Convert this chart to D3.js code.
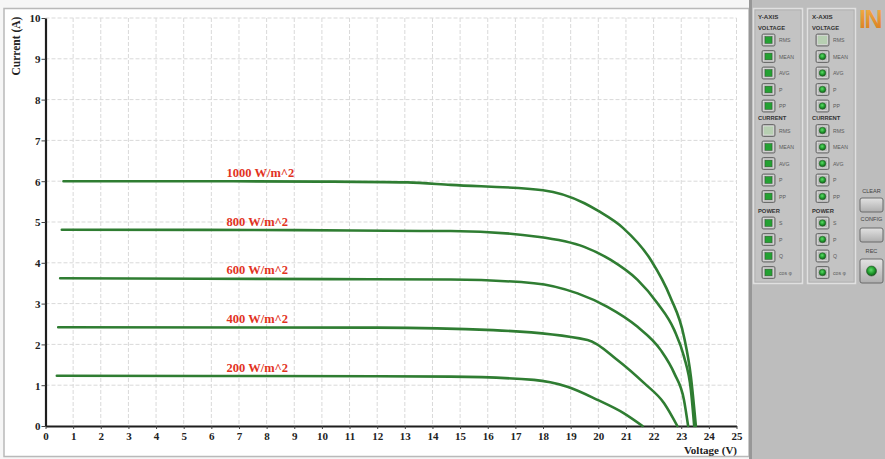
<!DOCTYPE html>
<html>
<head>
<meta charset="utf-8">
<script src="https://cdn.jsdelivr.net/npm/d3@7"></script>
<style>
  body { margin: 0; background: #fff; }
  svg { display: block; }
</style>
</head>
<body>
<svg id="chart" width="885" height="459"></svg>
<script>
// I-V characteristics of a PV module at five irradiance levels
const irradiance = ["1000 W/m^2", "800 W/m^2", "600 W/m^2", "400 W/m^2", "200 W/m^2"];

const v1000 = [0.65, 5, 10, 13.1, 14.66, 18.0, 19.5, 20.0, 20.9, 21.9, 22.6, 23.1, 23.35, 23.53];
const i1000 = [6.00, 6.00, 5.99, 5.97, 5.91, 5.78, 5.46, 5.27, 4.85, 4.07, 3.17, 2.19, 1.21, 0];

const v800 = [0.59, 9.1, 13.6, 14.66, 17.8, 19.49, 20.45, 21.42, 22.14, 22.75, 23.1, 23.35, 23.47];
const i800 = [4.81, 4.80, 4.78, 4.78, 4.64, 4.39, 4.07, 3.58, 3.01, 2.35, 1.70, 0.88, 0];

const v600 = [0.53, 10.3, 14.66, 17.67, 19.25, 20.33, 21.42, 22.26, 22.75, 23.1, 23.25];
const i600 = [3.62, 3.60, 3.59, 3.50, 3.25, 2.92, 2.43, 1.86, 1.29, 0.64, 0];

const v400 = [0.46, 12, 16.2, 19.61, 20.69, 21.66, 22.38, 22.86];
const i400 = [2.42, 2.41, 2.35, 2.11, 1.62, 1.05, 0.56, 0];

const v200 = [0.41, 12, 14.66, 17.67, 18.88, 19.97, 20.93, 21.6];
const i200 = [1.23, 1.22, 1.21, 1.13, 0.96, 0.64, 0.31, 0];

const xTicks = d3.range(0, 26);
const yTicks = d3.range(0, 11);

// Instrument side panel
const panelSections = ["VOLTAGE", "CURRENT", "POWER"];
const panelMeasures = [
  ["RMS", "MEAN", "AVG", "P", "PP"],
  ["RMS", "MEAN", "AVG", "P", "PP"],
  ["S", "P", "Q", "cos φ"]
];
const panelButtons = ["CLEAR", "CONFIG", "REC"];

const seriesV = [v1000, v800, v600, v400, v200];
const seriesI = [i1000, i800, i600, i400, i200];
const series = irradiance.map((name, k) => ({
  name,
  points: seriesV[k].map((v, j) => ({ v, i: seriesI[k][j] }))
}));

const svg = d3.select("#chart");
const serif = "'Liberation Serif', 'Times New Roman', serif";
const sans = "'Liberation Sans', Arial, sans-serif";

const x = d3.scaleLinear().domain([0, 25]).range([45.5, 736.5]);
const y = d3.scaleLinear().domain([0, 10]).range([426, 18]);

// plot frame
svg.append("rect").attr("x", 0).attr("y", 0).attr("width", 885).attr("height", 459).attr("fill", "#f6f6f6");
svg.append("rect").attr("x", 4).attr("y", 8.5).attr("width", 745).attr("height", 448)
  .attr("fill", "#fff").attr("stroke", "#b9b9b9").attr("stroke-width", 1.5);

// grid
const grid = svg.append("g").attr("stroke", "#d9d9d9").attr("stroke-width", 1).attr("stroke-dasharray", "4,2");
grid.selectAll("line.v").data(xTicks.filter(d => d > 0)).join("line")
  .attr("x1", d => x(d)).attr("x2", d => x(d)).attr("y1", y(10)).attr("y2", y(0));
grid.selectAll("line.h").data(yTicks.filter(d => d > 0)).join("line")
  .attr("x1", x(0)).attr("x2", x(25)).attr("y1", d => y(d)).attr("y2", d => y(d));

// axes
const xAxis = svg.append("g").attr("transform", `translate(0,${y(0)})`)
  .call(d3.axisBottom(x).tickValues(xTicks).tickFormat(d3.format("d")).tickSize(3).tickSizeOuter(0).tickPadding(3));
const yAxis = svg.append("g").attr("transform", `translate(${x(0)},0)`)
  .call(d3.axisLeft(y).tickValues(yTicks).tickFormat(d3.format("d")).tickSize(4).tickSizeOuter(0).tickPadding(1));
[xAxis, yAxis].forEach(g => {
  g.select(".domain").attr("stroke", "#1e1e1e").attr("stroke-width", 2.2);
  g.selectAll(".tick line").attr("stroke", "#444");
  g.selectAll(".tick text").attr("font-family", serif).attr("font-weight", "bold")
    .attr("font-size", 11).attr("fill", "#222");
});
yAxis.selectAll(".tick text").attr("dy", "0.35em");

// axis titles
svg.append("text").attr("transform", "translate(20,46) rotate(-90)")
  .attr("text-anchor", "middle").attr("font-family", serif).attr("font-weight", "bold")
  .attr("font-size", 11.5).attr("fill", "#222").text("Current (A)");
svg.append("text").attr("x", 737).attr("y", 453.5).attr("text-anchor", "end")
  .attr("font-family", serif).attr("font-weight", "bold").attr("font-size", 11)
  .attr("fill", "#222").text("Voltage (V)");

// curves
const line = d3.line().x(d => x(d.v)).y(d => y(d.i)).curve(d3.curveMonotoneX);
svg.append("g").selectAll("path").data(series).join("path")
  .attr("d", d => line(d.points)).attr("fill", "none")
  .attr("stroke", "#2f7d32").attr("stroke-width", 2.6)
  .attr("stroke-linejoin", "round").attr("stroke-linecap", "round");

// irradiance labels
svg.append("g").selectAll("text").data(series).join("text")
  .attr("x", x(6.55)).attr("y", d => y(d.points[0].i) - 4)
  .attr("font-family", serif).attr("font-weight", "bold").attr("font-size", 12.5)
  .attr("fill", "#e2331f").text(d => d.name);

// ---------- side panel ----------
const defs = svg.append("defs");
const led = defs.append("radialGradient").attr("id", "led").attr("cx", "45%").attr("cy", "40%").attr("r", "60%");
led.append("stop").attr("offset", "0%").attr("stop-color", "#5fdc6a");
led.append("stop").attr("offset", "60%").attr("stop-color", "#1f9a2c");
led.append("stop").attr("offset", "100%").attr("stop-color", "#0d5a16");
const btn = defs.append("linearGradient").attr("id", "btn").attr("x1", 0).attr("y1", 0).attr("x2", 0).attr("y2", 1);
btn.append("stop").attr("offset", "0%").attr("stop-color", "#e2e2e2");
btn.append("stop").attr("offset", "100%").attr("stop-color", "#aeaeae");
const logo = defs.append("linearGradient").attr("id", "logo").attr("x1", 0).attr("y1", 0).attr("x2", 0).attr("y2", 1);
logo.append("stop").attr("offset", "0%").attr("stop-color", "#f4b24a");
logo.append("stop").attr("offset", "100%").attr("stop-color", "#d9791c");

svg.append("rect").attr("x", 749).attr("y", 0).attr("width", 136).attr("height", 459).attr("fill", "#bdbdbd");
svg.append("rect").attr("x", 749).attr("y", 0).attr("width", 3).attr("height", 459).attr("fill", "#979797");

const boxes = [
  { title: "Y-AXIS", x0: 753.5, w: 49, round: false },
  { title: "X-AXIS", x0: 807.5, w: 48, round: true }
];
const sectionLabelY = [27.5, 118, 210.5];
const rowStep = 16.5;

boxes.forEach((b, bi) => {
  const g = svg.append("g");
  g.append("rect").attr("x", b.x0).attr("y", 8.5).attr("width", b.w).attr("height", 275)
    .attr("fill", "#c3c3c3").attr("stroke", "#e0e0e0").attr("stroke-width", 1.5);
  g.append("rect").attr("x", b.x0 + 1.5).attr("y", 10).attr("width", b.w - 3).attr("height", 272)
    .attr("fill", "none").attr("stroke", "#a9a9a9").attr("stroke-width", 0.6);
  g.append("text").attr("x", b.x0 + 4.5).attr("y", 18.5).attr("font-family", sans)
    .attr("font-weight", "bold").attr("font-size", 6.2).attr("fill", "#333").text(b.title);
  panelSections.forEach((sec, si) => {
    g.append("text").attr("x", b.x0 + 4.5).attr("y", sectionLabelY[si] + 2.2).attr("font-family", sans)
      .attr("font-weight", "bold").attr("font-size", 5.8).attr("fill", "#333").text(sec);
    panelMeasures[si].forEach((m, mi) => {
      const cy = sectionLabelY[si] + 12.5 + mi * rowStep;
      const bx = b.x0 + 8.5;
      const lit = !((bi === 0 && si === 1 && mi === 0) || (bi === 1 && si === 0 && mi === 0));
      g.append("rect").attr("x", bx).attr("y", cy - 6).attr("width", 13).attr("height", 12).attr("rx", 1.5)
        .attr("fill", "#a9a9a9").attr("stroke", "#6d6d6d").attr("stroke-width", 1);
      g.append("rect").attr("x", bx + 1.5).attr("y", cy - 4.5).attr("width", 10).attr("height", 9)
        .attr("fill", lit ? "#b9b9b9" : "#b7cfb2").attr("stroke", "#e6e6e6").attr("stroke-width", 0.6);
      if (lit) {
        if (b.round) {
          g.append("circle").attr("cx", bx + 6.5).attr("cy", cy).attr("r", 3.3).attr("fill", "url(#led)")
            .attr("stroke", "#2d5a2d").attr("stroke-width", 0.5);
        } else {
          g.append("rect").attr("x", bx + 3).attr("y", cy - 3.3).attr("width", 7).attr("height", 6.6)
            .attr("fill", "#23a132").attr("stroke", "#2d5a2d").attr("stroke-width", 0.5);
        }
      }
      g.append("text").attr("x", bx + 17).attr("y", cy + 2).attr("font-family", sans)
        .attr("font-size", 5.2).attr("fill", "#5a5a5a").text(m);
    });
  });
});

// logo
svg.append("text").attr("x", 859).attr("y", 28).attr("font-family", sans).attr("font-weight", "bold")
  .attr("font-size", 25).attr("letter-spacing", -1.5).attr("fill", "url(#logo)").text("IN");

// action buttons
const actionLayout = [
  { labelY: 193, y0: 198, h: 14 },
  { labelY: 221, y0: 228, h: 14 },
  { labelY: 253, y0: 259, h: 24 }
];
panelButtons.forEach((name, k) => {
  const L = actionLayout[k];
  svg.append("text").attr("x", 871.5).attr("y", L.labelY).attr("text-anchor", "middle")
    .attr("font-family", sans).attr("font-size", 5.6).attr("fill", "#444").text(name);
  svg.append("rect").attr("x", 860).attr("y", L.y0).attr("width", 23).attr("height", L.h).attr("rx", 2)
    .attr("fill", "url(#btn)").attr("stroke", "#6a6a6a").attr("stroke-width", 1);
  if (name === "REC") {
    svg.append("circle").attr("cx", 871.5).attr("cy", L.y0 + L.h / 2).attr("r", 5)
      .attr("fill", "url(#led)").attr("stroke", "#2d4f2d").attr("stroke-width", 0.6);
  }
});
</script>
</body>
</html>
